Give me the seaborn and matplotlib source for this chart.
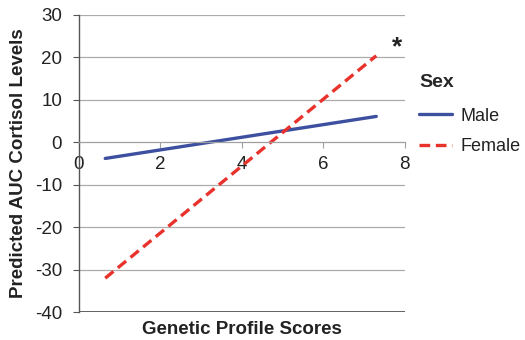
import pandas as pd
import matplotlib
matplotlib.use("Agg")
import matplotlib.pyplot as plt
import seaborn as sns

# endpoints of the predicted lines
scores = [0.65, 7.3]
male = [-3.8, 6.1]
female = [-32.0, 20.4]
sexes = ["Male", "Female"]
x_ticks = [0, 2, 4, 6, 8]
y_ticks = [-40, -30, -20, -10, 0, 10, 20, 30]

df = pd.DataFrame({
    "score": scores + scores,
    "auc": male + female,
    "Sex": [sexes[0]] * 2 + [sexes[1]] * 2,
})

sns.set_style("white")
plt.rcParams["font.family"] = ["Liberation Sans", "DejaVu Sans"]
plt.rcParams["axes.unicode_minus"] = False

fig = plt.figure(figsize=(5.25, 3.4), dpi=100)
ax = fig.add_axes([0.150, 0.082, 0.621, 0.874])

sns.lineplot(data=df, x="score", y="auc", hue="Sex", style="Sex",
             palette={"Male": "#3d4f9f", "Female": "#e8322c"},
             dashes={"Male": "", "Female": (3.2, 1.7)},
             linewidth=2.4, ax=ax, legend=True)

ax.set_xlim(0, 8)
ax.set_ylim(-40, 30)
ax.set_xticks(x_ticks)
ax.set_yticks(y_ticks)
for y in y_ticks[1:]:
    if y != 0:
        ax.axhline(y, color="#ababab", lw=0.9, zorder=0)
ax.axhline(-40, color="#555555", lw=1.3, zorder=0)

for s in ["top", "right"]:
    ax.spines[s].set_visible(False)
ax.spines["bottom"].set_position(("data", 0))
ax.spines["bottom"].set_color("#a0a0a0")
ax.spines["bottom"].set_linewidth(0.9)
ax.spines["left"].set_color("#555555")
ax.spines["left"].set_linewidth(1.0)

ax.tick_params(axis="x", direction="out", length=4, color="#a0a0a0",
               labelsize=13.5, labelcolor="#222222", pad=6, bottom=True)
ax.tick_params(axis="y", direction="out", length=4, color="#555555",
               labelsize=13.5, labelcolor="#222222", pad=8, left=True)

ax.set_xlabel("Genetic Profile Scores", fontsize=13.5, fontweight="bold",
              color="#222222")
ax.xaxis.set_label_coords(0.5, -0.03)
ax.set_ylabel("Predicted AUC Cortisol Levels", fontsize=13.5,
              fontweight="bold", color="#222222")
ax.yaxis.set_label_coords(-0.16, 0.5)

ax.text(7.8, 22.4, "*", fontsize=19, fontweight="bold", ha="center",
        va="center", color="#222222")

leg = ax.legend(title="Sex", loc="upper left",
                bbox_to_anchor=(419 / 525, 1 - 74 / 340),
                bbox_transform=fig.transFigure, borderaxespad=0, borderpad=0,
                frameon=False, fontsize=13, handlelength=1.8,
                handletextpad=0.5, labelspacing=0.75)
leg.get_title().set_fontweight("bold")
leg.get_title().set_fontsize(14)
leg._legend_box.align = "left"
leg._legend_box.sep = 12
for t in leg.get_texts():
    t.set_color("#222222")

fig.savefig("out.png", dpi=100)
